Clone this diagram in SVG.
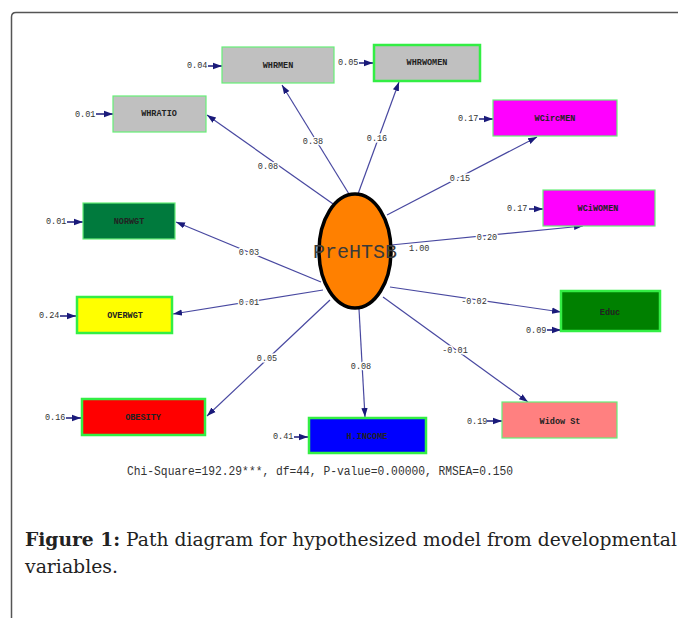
<svg xmlns="http://www.w3.org/2000/svg" width="678" height="618" viewBox="0 0 678 618">
<defs>
<marker id="ah" viewBox="0 0 10 10" refX="10" refY="5" markerWidth="9" markerHeight="9" markerUnits="userSpaceOnUse" orient="auto">
<path d="M0,1.5 L10,5 L0,8.5 Z" fill="#1a1a7a"/>
</marker>
<style>
.frame{fill:none;stroke:#555;stroke-width:1.5}
.edge{stroke:#4848a0;stroke-width:1.2;fill:none;marker-end:url(#ah)}
.err{stroke:#1a1a7a;stroke-width:1.5;fill:none;marker-end:url(#ah)}
.box{stroke:#66ee77;stroke-width:1.2}
.boxt{stroke:#33ee44;stroke-width:2.5}
.nl{font-family:"Liberation Mono",monospace;font-size:8.5px;font-weight:bold;fill:#222;text-anchor:middle;dominant-baseline:central}
.num{font-family:"Liberation Mono",monospace;font-size:8.5px;fill:#333;dominant-baseline:central}
.el{font-family:"Liberation Mono",monospace;font-size:8.5px;fill:#333;text-anchor:middle;dominant-baseline:central;stroke:#fff;stroke-width:3;paint-order:stroke}
.cap{font-family:"DejaVu Serif","Liberation Serif",serif;font-size:18px;fill:#222}
</style>
</defs>
<rect width="678" height="618" fill="#fff"/>
<path class="frame" d="M11.5,618 V17 Q11.5,12.5 16,12.5 H678"/>
<g id="connectors">
<line class="edge" x1="349" y1="194" x2="282" y2="85"/>
<line class="edge" x1="336" y1="206" x2="207" y2="115"/>
<line class="edge" x1="358" y1="194" x2="399" y2="82"/>
<line class="edge" x1="387" y1="215" x2="537" y2="137"/>
<line class="edge" x1="391" y1="245" x2="583" y2="226"/>
<line class="edge" x1="321" y1="282" x2="176" y2="222"/>
<line class="edge" x1="323" y1="290" x2="173" y2="314"/>
<line class="edge" x1="330" y1="300" x2="207" y2="416"/>
<line class="edge" x1="359" y1="309" x2="365" y2="417"/>
<line class="edge" x1="390" y1="287" x2="561" y2="312"/>
<line class="edge" x1="383" y1="297" x2="528" y2="402"/>
<line class="err" x1="208" y1="66" x2="222" y2="66"/>
<line class="err" x1="96" y1="114" x2="113" y2="114"/>
<line class="err" x1="359" y1="63" x2="373" y2="63"/>
<line class="err" x1="479" y1="119" x2="493" y2="119"/>
<line class="err" x1="529" y1="209" x2="543" y2="209"/>
<line class="err" x1="67" y1="222" x2="83" y2="222"/>
<line class="err" x1="60" y1="316" x2="76" y2="316"/>
<line class="err" x1="547" y1="330" x2="561" y2="330"/>
<line class="err" x1="487" y1="421" x2="502" y2="421"/>
<line class="err" x1="66" y1="418" x2="81" y2="418"/>
<line class="err" x1="294" y1="437" x2="308" y2="437"/>
<text class="el" x="313" y="142">0.38</text>
<text class="el" x="268" y="167">0.08</text>
<text class="el" x="377" y="139">0.16</text>
<text class="el" x="460" y="179">0.15</text>
<text class="el" x="487" y="238">0.20</text>
<text class="el" x="249" y="253">0.03</text>
<text class="el" x="249" y="303">0.01</text>
<text class="el" x="267" y="359">0.05</text>
<text class="el" x="361" y="367">0.08</text>
<text class="el" x="474" y="302">-0.02</text>
<text class="el" x="455" y="351">-0.01</text>
<text class="num" x="409" y="249">1.00</text>
</g>
<g id="PreHTSB">
<ellipse cx="355" cy="251" rx="36" ry="57" fill="#ff8000" stroke="#000" stroke-width="3.5"/>
<text x="355" y="252" font-family="Liberation Mono,monospace" font-size="20" fill="#3a3a3a" text-anchor="middle" dominant-baseline="central">PreHTSB</text>
</g>
<g id="WHRMEN">
<rect class="box" x="222" y="47" width="112" height="36" fill="#c0c0c0"/>
<text class="nl" x="278" y="66">WHRMEN</text>
<text class="num" x="187" y="66">0.04</text>
</g>
<g id="WHRATIO">
<rect class="box" x="113" y="96" width="93" height="36" fill="#c0c0c0"/>
<text class="nl" x="159" y="114">WHRATIO</text>
<text class="num" x="75" y="115">0.01</text>
</g>
<g id="WHRWOMEN">
<rect class="boxt" x="374" y="45" width="106" height="36" fill="#c0c0c0"/>
<text class="nl" x="427" y="63">WHRWOMEN</text>
<text class="num" x="338" y="63">0.05</text>
</g>
<g id="WCircMEN">
<rect class="box" x="493" y="100" width="124" height="36" fill="#ff00ff"/>
<text class="nl" x="555" y="119">WCircMEN</text>
<text class="num" x="458" y="119">0.17</text>
</g>
<g id="WCiWOMEN">
<rect class="box" x="543" y="190" width="112" height="36" fill="#ff00ff"/>
<text class="nl" x="598" y="209">WCiWOMEN</text>
<text class="num" x="507" y="209">0.17</text>
</g>
<g id="NORWGT">
<rect class="box" x="83" y="203" width="92" height="36" fill="#007a3d"/>
<text class="nl" x="129" y="222">NORWGT</text>
<text class="num" x="46" y="222">0.01</text>
</g>
<g id="OVERWGT">
<rect class="boxt" x="77" y="297" width="95" height="36" fill="#ffff00"/>
<text class="nl" x="125" y="316">OVERWGT</text>
<text class="num" x="39" y="316">0.24</text>
</g>
<g id="Educ">
<rect class="boxt" x="561" y="291" width="99" height="40" fill="#008000"/>
<text class="nl" x="610" y="313" font-size="10.5">Educ</text>
<text class="num" x="526" y="331">0.09</text>
</g>
<g id="WidowSt">
<rect class="box" x="502" y="402" width="115" height="36" fill="#ff8080"/>
<text class="nl" x="560" y="422">Widow St</text>
<text class="num" x="467" y="422">0.19</text>
</g>
<g id="OBESITY">
<rect class="boxt" x="82" y="399" width="123" height="36" fill="#ff0000"/>
<text class="nl" x="143" y="418">OBESITY</text>
<text class="num" x="45" y="418">0.16</text>
</g>
<g id="HINCOME">
<rect class="boxt" x="309" y="418" width="117" height="35" fill="#0000ff"/>
<text class="nl" x="367" y="437">H.INCOME</text>
<text class="num" x="273" y="437">0.41</text>
</g>
<text x="127" y="472" font-family="Liberation Mono,monospace" font-size="12" fill="#333" textLength="386" lengthAdjust="spacingAndGlyphs" dominant-baseline="central">Chi-Square=192.29***, df=44, P-value=0.00000, RMSEA=0.150</text>
<text class="cap" x="25" y="546" textLength="652" lengthAdjust="spacingAndGlyphs"><tspan font-weight="bold">Figure 1:</tspan> Path diagram for hypothesized model from developmental</text>
<text class="cap" x="25" y="573" textLength="93" lengthAdjust="spacingAndGlyphs">variables.</text>
</svg>
